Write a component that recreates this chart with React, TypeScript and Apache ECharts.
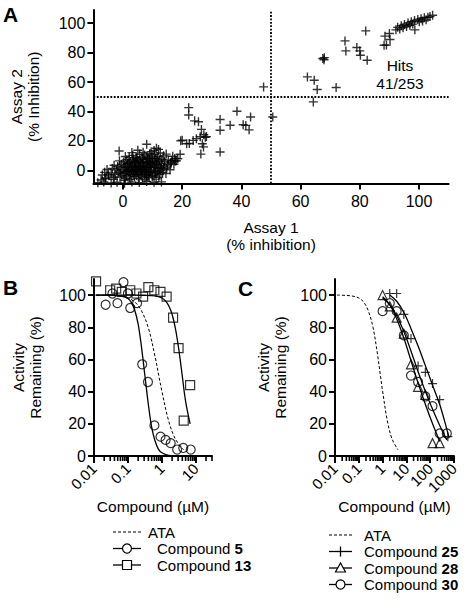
import { useEffect, useRef } from 'react';
import * as echarts from 'echarts';

const FONT = '"Liberation Sans", Arial, Helvetica, sans-serif';

// ---------- Panel A ----------
const A_TICKS = [0, 20, 40, 60, 80, 100];
const A_X_RANGE = [-10, 110];
const A_Y_RANGE = [-9, 109];
const A_CUTOFF = 50;
const A_HITS_LABEL = 'Hits\n41/253';

const A_HITS: number[][] = [
  [62.3, 63.5], [64.6, 61.2], [65.6, 54.9], [72, 56.3], [67.5, 76], [68, 76.6], [67.9, 75.2],
  [75, 88], [75.3, 81.2], [79, 83.5], [80, 81.2], [80.2, 78.2], [82.5, 74.8], [82, 94.8],
  [88.2, 85], [89, 85.2], [88.5, 91.2], [90, 93], [90.2, 88.9],
  [92.2, 95.5], [92.8, 97.2], [93.5, 96], [94, 98.3], [94.6, 97], [95.1, 99.1], [95.8, 97.8],
  [96.3, 100.2], [96.9, 98.6], [97.4, 101], [97.9, 99.4], [98.5, 101.8], [98.6, 95.5],
  [99.6, 102.5], [100.1, 101], [100.7, 103.1], [101.2, 101.6], [101.8, 103.7], [102.4, 102.3],
  [103, 104], [103.7, 104.5], [104.6, 105.4],
];
const A_MID: number[][] = [
  [22.2, 42.6], [22.2, 37.6], [24.2, 33.6], [25.5, 33], [26.5, 27.8], [27.3, 24.2], [27.8, 22.5],
  [26.1, 22.8], [28.2, 22.9], [20, 20.4], [22.4, 18.2], [23.7, 20.3], [24.8, 21.5], [26.8, 18],
  [27.2, 15.9], [26.3, 11], [19.5, 20], [21.5, 18], [32.8, 34.5], [32.8, 27.2], [32.8, 12.4],
  [36.2, 30.6], [38.5, 40.1], [40.6, 31], [41.5, 30.5], [42.6, 27.5], [43.1, 36.2], [47.5, 56.7],
  [50.6, 36.2], [64.3, 46.5], [19.3, 10.9], [17.5, 8], [18, 6.5], [16, 5],
];
const A_CLUSTER: number[][] = [
  [-8.5, -8.5], [-6.5, -8], [-4, -8.6], [-2, -8.2], [0.5, -8.8], [3, -8], [5.5, -8.4], [8, -7.6], [10.5, -8.2], [13, -7.9],
  [-5.8, -5.2], [-3.2, -6.1], [-1, -4.6], [0.8, -5.5], [2.4, -6.3], [3.9, -4.2], [5.2, -5.7], [6.6, -4.9], [7.4, -6.4],
  [8.8, -5.1], [9.9, -4.4], [11.2, -6], [12.1, -4.7], [4.6, -3.8], [6.1, -3.1],
  [-7, -3.2], [-6.2, -1.4], [-4.8, -3.8], [-4, -1.8], [-2.6, -2.9], [-1.5, -1.1], [-0.4, -3.3], [0.3, -2.1], [1.2, -3.6],
  [1.9, -1.2], [2.7, -2.8], [3.3, -1.6], [4.1, -2.4], [5, -1.1], [5.7, -2.7], [6.4, -1.5], [7.2, -3], [7.9, -1.8],
  [8.5, -2.6], [9.3, -1.2], [10.1, -3.4], [10.8, -2], [11.6, -1.4], [12.4, -2.9], [13.3, -1.6], [14.5, -2.2], [2.2, -4.5],
  [8.1, -4.1], [-0.8, -1.9],
  [-5.4, 0.5], [-3.6, 1.2], [-2.1, 0.2], [-1, 1.6], [0, 0.4], [0.9, 1.8], [1.6, -0.3], [2.4, 0.9], [3.1, 1.9], [3.8, -0.5],
  [4.5, 0.7], [5.3, 1.6], [6, -0.2], [6.7, 1.1], [7.5, 0.3], [8.2, 1.7], [8.9, -0.6], [9.6, 0.8], [10.4, 1.9], [11.1, 0.1],
  [11.9, 1.3], [12.7, -0.4], [13.6, 0.9], [14.8, 1.5], [15.9, 0.4], [4, 2.1], [7, 2.2], [1, -0.8],
  [-3, 3.4], [-1.8, 2.6], [-0.5, 4.1], [0.6, 3], [1.5, 4.6], [2.3, 2.5], [3, 3.8], [3.7, 4.9], [4.4, 2.9], [5.1, 4.2],
  [5.8, 3.1], [6.5, 4.7], [7.2, 3.3], [7.9, 4.5], [8.6, 2.6], [9.3, 3.9], [10, 4.8], [10.7, 2.8], [11.4, 4], [12.2, 3.2],
  [13, 4.6], [13.9, 2.7], [15.1, 3.8], [16.3, 5], [17.2, 4.1], [2, 5], [9, 5.2],
  [-1.2, 6.4], [0.2, 5.6], [1.3, 7.2], [2.6, 6], [3.4, 7.6], [4.2, 5.4], [5, 6.8], [5.9, 5.7], [6.7, 7.4], [7.5, 6.1],
  [8.3, 7.8], [9.1, 5.8], [9.9, 7], [10.6, 6.2], [11.5, 7.9], [12.3, 6.5], [13.2, 7.3], [14.1, 5.9], [15.3, 7], [16.5, 6.5],
  [17.6, 6.2], [18.5, 7.8], [4.7, 8], [11, 8.2],
  [0.8, 9.4], [2.1, 8.6], [3.3, 10.1], [4.5, 9], [5.6, 11], [6.4, 8.9], [7.3, 10.4], [8.1, 9.1], [9, 11.3], [9.8, 9.7],
  [10.7, 10.8], [11.8, 9.2], [12.6, 11.7], [13.7, 9.8], [14.6, 11], [16.8, 9.5], [6.8, 12.2], [9.5, 12.6], [3, 12],
  [10.5, 13.5], [12, 14.2], [5, 13.6], [8, 17.7], [-1.3, 13.1], [11.3, 15],
  [-6, -5.8], [-7.4, -6.6], [-5, -2.7], [-3, -4.8],
  [2.9, 0.2], [4.8, -0.2], [6.2, 0.4], [7.8, -0.9], [9.4, 2.1], [5.5, 2.6], [3.6, -3], [8.7, -3.2], [10.9, -0.8],
  [1.4, 2.4], [6.9, 5.3], [8.8, 8.4], [12.9, 1.8], [4.1, 6.3], [11.2, 5.5], [0.4, -6.8],
];

// ---------- Panels B & C ----------
const ACT_TICKS = [0, 20, 40, 60, 80, 100];
const ACT_RANGE = [0, 110];
const B_X_RANGE = [0.01, 30];
const C_X_RANGE = [0.01, 1000];
const B_X_LABELS = [0.01, 0.1, 1, 10];
const C_X_LABELS = [0.01, 0.1, 1, 10, 100, 1000];

// ATA reference curve (same compound in both panels)
const ATA_CURVE: number[][] = [
  [0.012, 100], [0.03, 99.8], [0.063, 99.2], [0.1, 98.2], [0.16, 95.7], [0.25, 90.3], [0.4, 79.6],
  [0.63, 61.8], [0.81, 50], [1, 40.3], [1.58, 21.9], [2.51, 10.5], [4.4, 3.9],
];
// Compound 5
const C5_POINTS: number[][] = [
  [0.022, 94], [0.035, 101], [0.049, 95], [0.074, 108], [0.1, 101], [0.117, 92], [0.186, 95],
  [0.263, 57], [0.389, 46], [0.603, 19], [0.912, 12], [1.29, 10], [1.82, 8], [2.82, 4], [4.27, 5], [7.08, 4],
];
const C5_CURVE: number[][] = [
  [0.011, 100], [0.03, 100], [0.063, 99.5], [0.1, 97.9], [0.126, 95.5], [0.158, 90.7], [0.2, 82],
  [0.25, 68], [0.316, 50], [0.4, 32], [0.5, 18], [0.63, 9.3], [0.79, 4.3], [1, 2], [1.58, 0.4], [3, 0.05], [7.08, 0],
];
// Compound 13
const C13_POINTS: number[][] = [
  [0.0115, 108.5], [0.03, 103], [0.045, 104], [0.066, 102], [0.117, 103], [0.178, 101], [0.28, 99],
  [0.4, 105], [0.6, 103], [0.91, 102], [1.38, 99], [2.14, 86], [3.1, 67], [4.4, 22], [6.8, 44],
];
const C13_CURVE: number[][] = [
  [0.0115, 100], [0.1, 100], [0.316, 99.9], [0.63, 99.5], [1, 98.2], [1.26, 96.6], [1.58, 93.5],
  [2, 88.1], [2.51, 79.2], [3.16, 66.1], [3.98, 50], [5.01, 33.9], [6.8, 20],
];
// Compound 25
const C25_POINTS: number[][] = [
  [2, 101], [3.9, 101], [7.8, 88], [15.6, 73], [31, 56], [62.5, 52], [125, 45], [250, 35], [550, 12],
];
const C25_CURVE: number[][] = [
  [2, 100], [3.98, 96], [7.94, 89], [15.8, 79], [31.6, 68], [63.1, 56], [126, 44], [251, 32], [398, 22], [603, 12],
];
// Compound 28
const C28_POINTS: number[][] = [
  [1, 100], [2, 93], [3.9, 86], [7.8, 76], [15.6, 57], [31, 43], [62.5, 38], [125, 8], [250, 8],
];
const C28_CURVE: number[][] = [
  [1, 99], [2, 94], [3.98, 85], [7.94, 73], [15.8, 59], [31.6, 45], [63.1, 32], [126, 20], [251, 9],
];
// Compound 30
const C30_POINTS: number[][] = [
  [1, 90], [2, 95], [3.9, 90], [7.8, 75], [15.6, 50], [31, 46], [62.5, 37], [125, 31], [250, 14], [500, 14],
];
const C30_CURVE: number[][] = [
  [1, 98], [2, 94], [3.98, 87], [7.94, 77], [15.8, 65], [31.6, 52], [63.1, 40], [126, 29], [251, 19], [501, 10],
];

const CROSS = 'path://M5 0V10M0 5H10';

// minor log ticks (2..9 x each decade) inside an axis range
function minorTicks(lo: number, hi: number): number[] {
  const out: number[] = [];
  for (let d = lo; d < hi; d *= 10) {
    for (let k = 2; k <= 9; k++) {
      const v = Number((k * d).toPrecision(6));
      if (v <= hi * 1.0001) out.push(v);
    }
  }
  return out;
}

const BLACK = '#000';
const axisLineStyle = { color: BLACK, width: 2 };

function valueYAxis(gridIndex: number, range: number[], ticks: number[], name: string, nameGap: number) {
  return {
    type: 'value', gridIndex, min: range[0], max: range[1],
    name, nameLocation: 'middle', nameGap, nameRotate: 90,
    nameTextStyle: { fontFamily: FONT, fontSize: 15.5, color: BLACK, lineHeight: 17 },
    axisLine: { show: true, onZero: false, lineStyle: axisLineStyle },
    axisTick: { show: true, length: 6, customValues: ticks, lineStyle: axisLineStyle },
    axisLabel: { customValues: ticks, fontFamily: FONT, fontSize: 16, color: BLACK, margin: 8 },
    splitLine: { show: false },
  };
}

function fmtLog(v: number) {
  return String(Number(Number(v).toPrecision(6)));
}

function logXAxis(gridIndex: number, range: number[], labels: number[]) {
  return {
    type: 'log', logBase: 10, gridIndex, min: range[0], max: range[1], position: 'bottom',
    name: 'Compound (µM)', nameLocation: 'middle', nameGap: 42,
    nameTextStyle: { fontFamily: FONT, fontSize: 15.5, color: BLACK },
    axisLine: { show: true, onZero: false, lineStyle: axisLineStyle },
    axisTick: { show: true, length: 7, customValues: labels, lineStyle: axisLineStyle },
    axisLabel: {
      customValues: labels, rotate: 45, fontFamily: FONT, fontSize: 15, color: BLACK, margin: 10,
      formatter: (v: number) => fmtLog(v),
    },
    splitLine: { show: false },
    minorTick: { show: false },
  };
}

// minor ticks positioned by the panel's own log scale
function minorTickGraphics(chart: any, xi: number, yi: number, range: number[]) {
  return minorTicks(range[0], range[1]).map((v) => {
    const p = chart.convertToPixel({ xAxisIndex: xi, yAxisIndex: yi }, [v, 0]);
    return {
      type: 'line', silent: true, z: 10,
      shape: { x1: p[0], y1: p[1], x2: p[0], y2: p[1] + 5 },
      style: { stroke: BLACK, lineWidth: 1.6 },
    };
  });
}

function fitLine(name: string, data: number[][], xi: number, yi: number, dashed = false) {
  return {
    type: 'line', name, data, xAxisIndex: xi, yAxisIndex: yi, smooth: 0.35,
    symbol: 'none', showSymbol: false, silent: true,
    lineStyle: { color: BLACK, width: dashed ? 1 : 1.3, type: dashed ? [3, 2] : 'solid' },
    z: 2,
  };
}

function points(name: string, data: number[][], xi: number, yi: number, symbol: string, size: number) {
  return {
    type: 'scatter', name, data, xAxisIndex: xi, yAxisIndex: yi, symbol, symbolSize: size,
    itemStyle: { color: 'rgba(0,0,0,0)', borderColor: BLACK, borderWidth: 1.2 },
    z: 3,
  };
}

const richStyle = {
  n: { fontFamily: FONT, fontSize: 15, fill: BLACK, color: BLACK },
  b: { fontFamily: FONT, fontSize: 15, fontWeight: 'bold', fill: BLACK, color: BLACK },
};

function legendRow(x0: number, x1: number, y: number, tx: number, kind: string, label: string, bold?: string) {
  const els: any[] = [];
  const cx = (x0 + x1) / 2;
  els.push({
    type: 'line', shape: { x1: x0, y1: y, x2: x1, y2: y },
    style: { stroke: BLACK, lineWidth: kind === 'dash' ? 1 : 1.3, lineDash: kind === 'dash' ? [3, 2] : null },
  });
  const sym = { fill: '#fff', stroke: BLACK, lineWidth: 1.2 };
  if (kind === 'circle') els.push({ type: 'circle', shape: { cx, cy: y, r: 4.5 }, style: sym });
  if (kind === 'square') els.push({ type: 'rect', shape: { x: cx - 4.5, y: y - 4.5, width: 9, height: 9 }, style: sym });
  if (kind === 'triangle') els.push({ type: 'polygon', shape: { points: [[cx, y - 5], [cx + 5, y + 4], [cx - 5, y + 4]] }, style: sym });
  if (kind === 'cross') els.push({ type: 'line', shape: { x1: cx, y1: y - 5, x2: cx, y2: y + 5 }, style: { stroke: BLACK, lineWidth: 1.3 } });
  els.push({
    type: 'text', x: tx, y,
    style: {
      text: bold ? `{n|${label} }{b|${bold}}` : `{n|${label}}`,
      rich: richStyle, fontFamily: FONT, fontSize: 15, fill: BLACK, verticalAlign: 'middle', align: 'left',
    },
  });
  return els;
}

function panelLetter(ch: string, x: number, y: number) {
  return {
    type: 'text', x, y,
    style: { text: ch, fontFamily: FONT, fontSize: 21, fontWeight: 'bold', fill: BLACK, align: 'left', verticalAlign: 'top' },
  };
}

export default function App() {
  const ref = useRef<HTMLDivElement>(null);
  useEffect(() => {
    if (!ref.current) return;
    const chart = echarts.init(ref.current, undefined, { renderer: 'svg' });
    const A_ALL = [...A_CLUSTER, ...A_MID, ...A_HITS];
    const graphics: any[] = [
      panelLetter('A', 3, 4),
      panelLetter('B', 3, 277),
      panelLetter('C', 238, 278),
      {
        type: 'text', x: 400, y: 56,
        style: { text: A_HITS_LABEL, fontFamily: FONT, fontSize: 15.5, lineHeight: 18, fill: BLACK, align: 'center', verticalAlign: 'top' },
      },
      ...legendRow(113, 141, 532, 148, 'dash', 'ATA'),
      ...legendRow(113, 141, 548.5, 157, 'circle', 'Compound', '5'),
      ...legendRow(113, 141, 565, 157, 'square', 'Compound', '13'),
      ...legendRow(329, 352, 535, 364, 'dash', 'ATA'),
      ...legendRow(329, 352, 551.5, 364, 'cross', 'Compound', '25'),
      ...legendRow(329, 352, 568, 364, 'triangle', 'Compound', '28'),
      ...legendRow(329, 352, 584.5, 364, 'circle', 'Compound', '30'),
    ];
    const option: any = {
      animation: false,
      backgroundColor: '#fff',
      grid: [
        { left: 93.4, top: 10, width: 355.2, height: 173.5, containLabel: false, outerBoundsMode: 'none' },
        { left: 94, top: 279, width: 118, height: 177, containLabel: false, outerBoundsMode: 'none' },
        { left: 335, top: 279, width: 119, height: 177, containLabel: false, outerBoundsMode: 'none' },
      ],
      xAxis: [
        {
          type: 'value', gridIndex: 0, min: A_X_RANGE[0], max: A_X_RANGE[1], position: 'bottom',
          name: 'Assay 1\n(% inhibition)', nameLocation: 'middle', nameGap: 35,
          nameTextStyle: { fontFamily: FONT, fontSize: 15.5, color: BLACK, lineHeight: 17 },
          axisLine: { show: true, onZero: false, lineStyle: axisLineStyle },
          axisTick: { show: true, length: 6, customValues: A_TICKS, lineStyle: axisLineStyle },
          axisLabel: { customValues: A_TICKS, fontFamily: FONT, fontSize: 16, color: BLACK, margin: 10 },
          splitLine: { show: false },
        },
        logXAxis(1, B_X_RANGE, B_X_LABELS),
        logXAxis(2, C_X_RANGE, C_X_LABELS),
      ],
      yAxis: [
        valueYAxis(0, A_Y_RANGE, A_TICKS, 'Assay 2\n(% Inhibition)', 51),
        valueYAxis(1, ACT_RANGE, ACT_TICKS, 'Activity\nRemaining (%)', 50),
        valueYAxis(2, ACT_RANGE, ACT_TICKS, 'Activity\nRemaining (%)', 46),
      ],
      series: [
        {
          type: 'scatter', name: 'Screen', data: A_ALL, xAxisIndex: 0, yAxisIndex: 0,
          symbol: CROSS, symbolSize: 9,
          itemStyle: { color: 'rgba(0,0,0,0)', borderColor: BLACK, borderWidth: 1.4 },
          markLine: {
            silent: true, symbol: ['none', 'none'], label: { show: false },
            lineStyle: { color: BLACK, width: 1.8, type: [1.8, 1.6] },
            data: [
              [{ coord: [A_CUTOFF, A_Y_RANGE[0]] }, { coord: [A_CUTOFF, A_Y_RANGE[1]] }],
              [{ coord: [A_X_RANGE[0], A_CUTOFF] }, { coord: [A_X_RANGE[1], A_CUTOFF] }],
            ],
          },
        },
        fitLine('ATA', ATA_CURVE, 1, 1, true),
        fitLine('Compound 5 fit', C5_CURVE, 1, 1),
        fitLine('Compound 13 fit', C13_CURVE, 1, 1),
        points('Compound 5', C5_POINTS, 1, 1, 'circle', 9),
        points('Compound 13', C13_POINTS, 1, 1, 'rect', 9),
        fitLine('ATA ', ATA_CURVE, 2, 2, true),
        fitLine('Compound 25 fit', C25_CURVE, 2, 2),
        fitLine('Compound 28 fit', C28_CURVE, 2, 2),
        fitLine('Compound 30 fit', C30_CURVE, 2, 2),
        points('Compound 25', C25_POINTS, 2, 2, CROSS, 9),
        points('Compound 28', C28_POINTS, 2, 2, 'triangle', 9),
        points('Compound 30', C30_POINTS, 2, 2, 'circle', 9),
      ],
      graphic: graphics,
    };
    chart.setOption(option);
    const minor = [
      ...minorTickGraphics(chart, 1, 1, B_X_RANGE),
      ...minorTickGraphics(chart, 2, 2, C_X_RANGE),
    ].filter((g) => isFinite(g.shape.x1) && isFinite(g.shape.y1));
    chart.setOption({ graphic: [...graphics, ...minor] });
    return () => chart.dispose();
  }, []);
  return <div ref={ref} style={{ position: 'fixed', left: 0, top: 0, width: 473, height: 600, background: '#fff' }} />;
}
